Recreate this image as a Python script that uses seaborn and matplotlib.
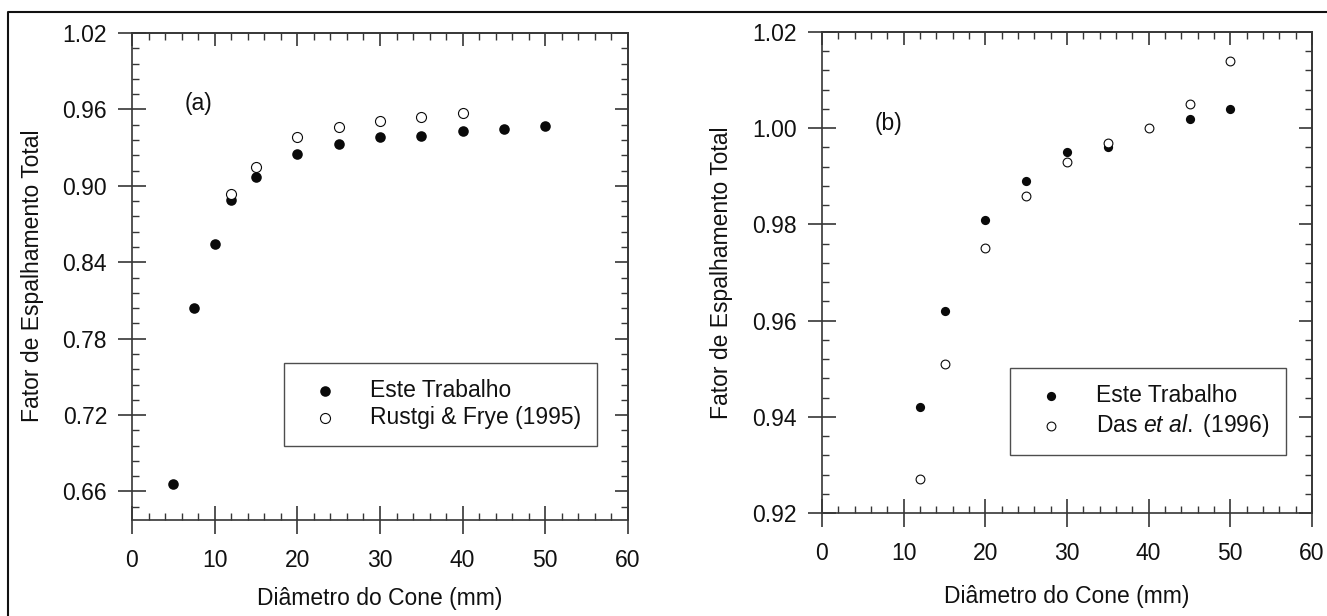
import numpy as np
import pandas as pd
import matplotlib
matplotlib.use("Agg")
import matplotlib.pyplot as plt
import seaborn as sns
from matplotlib.ticker import MultipleLocator, FixedLocator, FormatStrFormatter
from matplotlib.lines import Line2D

# ---------------- data ----------------
# Panel (a)
a_este_x = [5, 7.5, 10, 12, 15, 20, 25, 30, 35, 40, 45, 50]
a_este_y = [0.666, 0.804, 0.854, 0.889, 0.907, 0.925, 0.933, 0.938, 0.939, 0.943, 0.945, 0.947]
a_ref_x = [12, 15, 20, 25, 30, 35, 40]
a_ref_y = [0.8935, 0.915, 0.938, 0.946, 0.951, 0.954, 0.957]
# Panel (b)
b_este_x = [12, 15, 20, 25, 30, 35, 45, 50]
b_este_y = [0.942, 0.962, 0.981, 0.989, 0.995, 0.996, 1.002, 1.004]
b_ref_x = [12, 15, 20, 25, 30, 35, 40, 45, 50]
b_ref_y = [0.927, 0.951, 0.975, 0.986, 0.993, 0.997, 1.000, 1.005, 1.014]

a_xticks = [0, 10, 20, 30, 40, 50, 60]
a_yticks = [0.66, 0.72, 0.78, 0.84, 0.90, 0.96, 1.02]
b_yticks = [0.92, 0.94, 0.96, 0.98, 1.00, 1.02]

xlabel = "Diâmetro do Cone (mm)"
ylabel = "Fator de Espalhamento Total"
label_este = "Este Trabalho"
label_a_ref = "Rustgi & Frye (1995)"
label_b_ref = r"Das $\mathit{et\ al.}$ (1996)"

# ---------------- style ----------------
sns.set_theme(style="ticks")
plt.rcParams["font.family"] = ["Liberation Sans", "DejaVu Sans"]
plt.rcParams["mathtext.fontset"] = "custom"
plt.rcParams["mathtext.rm"] = "Liberation Sans"
plt.rcParams["mathtext.it"] = "Liberation Sans:italic"
FS = 16.5
SPINE = "#363636"
TXT = "#111111"

W, H = 1327, 616
fig = plt.figure(figsize=(W / 100, H / 100), dpi=100)
fig.patch.set_facecolor("white")


def px_axes(l, t, r, b):
    return fig.add_axes([l / W, 1 - b / H, (r - l) / W, (b - t) / H])


def style_axes(ax, ylim, yticks, yminor, panel_txt, panel_xy, xpad, ypad):
    ax.set_xlim(0, 60)
    ax.set_ylim(*ylim)
    ax.xaxis.set_major_locator(FixedLocator(a_xticks))
    ax.xaxis.set_minor_locator(MultipleLocator(2))
    ax.yaxis.set_major_locator(FixedLocator(yticks))
    ax.yaxis.set_minor_locator(MultipleLocator(yminor))
    ax.yaxis.set_major_formatter(FormatStrFormatter("%.2f"))
    for sp in ax.spines.values():
        sp.set_visible(True)
        sp.set_color(SPINE)
        sp.set_linewidth(1.2)
    ax.tick_params(axis="both", which="major", direction="inout", length=20,
                   width=1.2, color=SPINE, labelsize=FS, labelcolor=TXT,
                   top=False, right=False)
    ax.tick_params(axis="x", which="major", pad=11)
    ax.tick_params(axis="y", which="major", pad=8)
    ax.tick_params(axis="both", which="minor", direction="in", length=5,
                   width=1.0, color=SPINE, top=False, right=False)
    # top / right inward ticks
    sx = ax.secondary_xaxis("top")
    sx.xaxis.set_major_locator(FixedLocator(a_xticks))
    sx.xaxis.set_minor_locator(MultipleLocator(2))
    sx.tick_params(axis="x", which="major", direction="in", length=9.5, width=1.2,
                   color=SPINE, labeltop=False)
    sx.tick_params(axis="x", which="minor", direction="in", length=5, width=1.0,
                   color=SPINE)
    sx.spines["top"].set_color(SPINE)
    sx.spines["top"].set_linewidth(1.2)
    sy = ax.secondary_yaxis("right")
    sy.yaxis.set_major_locator(FixedLocator(yticks))
    sy.yaxis.set_minor_locator(MultipleLocator(yminor))
    sy.tick_params(axis="y", which="major", direction="in", length=9.5, width=1.2,
                   color=SPINE, labelright=False)
    sy.tick_params(axis="y", which="minor", direction="in", length=5, width=1.0,
                   color=SPINE)
    sy.spines["right"].set_color(SPINE)
    sy.spines["right"].set_linewidth(1.2)
    ax.set_xlabel(xlabel, fontsize=FS, color=TXT, labelpad=xpad)
    ax.set_ylabel(ylabel, fontsize=FS, color=TXT, labelpad=ypad)
    ax.text(panel_xy[0], panel_xy[1], panel_txt, transform=ax.transAxes,
            fontsize=FS, color=TXT, ha="left", va="center")


def draw_points(ax, ex, ey, rx, ry, rlabel, s_fill, s_open):
    df_e = pd.DataFrame({"x": ex, "y": ey})
    df_r = pd.DataFrame({"x": rx, "y": ry})
    sns.scatterplot(data=df_e, x="x", y="y", ax=ax, color="#0a0a0a", s=s_fill,
                    linewidth=0, label=label_este, zorder=3)
    sns.scatterplot(data=df_r, x="x", y="y", ax=ax, facecolor="white",
                    edgecolor="#0a0a0a", s=s_open, linewidth=0.8, label=rlabel,
                    zorder=3)


def make_legend(ax, anchor):
    leg = ax.legend(loc="upper left", bbox_to_anchor=anchor, borderaxespad=0,
                    fontsize=FS, frameon=True, fancybox=False, borderpad=0.7,
                    handlelength=2.2, handletextpad=0.85, labelspacing=0.2)
    leg.get_frame().set_edgecolor("#222222")
    leg.get_frame().set_linewidth(1.0)
    for t in leg.get_texts():
        t.set_color(TXT)
    return leg


# ---------------- panel (a) ----------------
ax1 = px_axes(132, 33, 628, 519.5)
draw_points(ax1, a_este_x, a_este_y, a_ref_x, a_ref_y, label_a_ref, 58, 52)
style_axes(ax1, (0.638, 1.02), a_yticks, 0.012, "(a)", (0.107, 0.856), 11, 13)
make_legend(ax1, (0.306, 0.322))

# ---------------- panel (b) ----------------
ax2 = px_axes(822, 32, 1312, 513)
draw_points(ax2, b_este_x, b_este_y, b_ref_x, b_ref_y, label_b_ref, 44, 40)
style_axes(ax2, (0.92, 1.02), b_yticks, 0.004, "(b)", (0.108, 0.81), 14, 14)
make_legend(ax2, (0.384, 0.301))

# ---------------- outer frame ----------------
fig.add_artist(Line2D([8 / W, 8 / W, 1.0], [0.0, 1 - 12 / H, 1 - 12 / H],
                      transform=fig.transFigure, color="#111111", linewidth=1.5))

fig.savefig("out.png", dpi=100, facecolor="white")
